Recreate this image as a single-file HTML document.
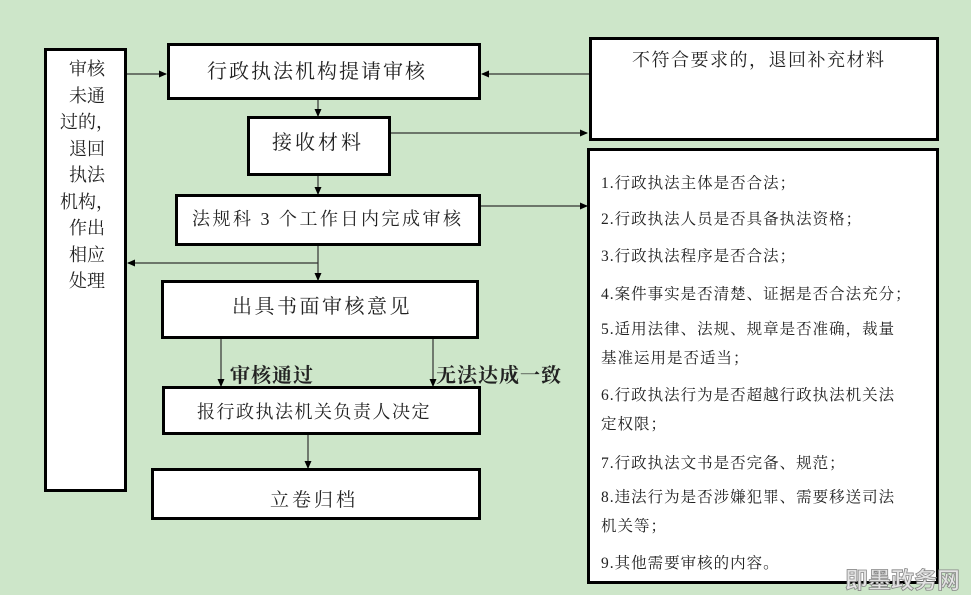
<!DOCTYPE html>
<html><head><meta charset="utf-8"><style>
body{margin:0;width:971px;height:593px;background:#cde6c9;position:relative;overflow:hidden;font-family:"Liberation Serif","Noto Serif CJK SC","Noto Sans CJK SC",serif;color:#222}
.b{position:absolute;background:#fff;border:3px solid #000;box-sizing:border-box;text-align:center}
.t{position:absolute;white-space:nowrap}
.li{position:absolute;left:601px;font-size:15.5px;white-space:nowrap;letter-spacing:1px}
</style></head><body>
<svg width="971" height="593" style="position:absolute;left:0;top:0">
<defs><marker id="a" markerWidth="8" markerHeight="8" refX="7" refY="4" orient="auto" markerUnits="userSpaceOnUse"><path d="M0,0.5 L8,4 L0,7.5z" fill="#000"/></marker></defs>
<g stroke="#333" stroke-width="1.2" fill="none">
<line x1="126" y1="74" x2="166" y2="74" marker-end="url(#a)"/>
<line x1="589" y1="74" x2="482" y2="74" marker-end="url(#a)"/>
<line x1="318" y1="98" x2="318" y2="116" marker-end="url(#a)"/>
<line x1="390" y1="133" x2="587" y2="133" marker-end="url(#a)"/>
<line x1="318" y1="175" x2="318" y2="194" marker-end="url(#a)"/>
<line x1="480" y1="206" x2="587" y2="206" marker-end="url(#a)"/>
<line x1="318" y1="245" x2="318" y2="280" marker-end="url(#a)"/>
<line x1="318" y1="263" x2="128" y2="263" marker-end="url(#a)"/>
<line x1="221" y1="338" x2="221" y2="386" marker-end="url(#a)"/>
<line x1="433" y1="338" x2="433" y2="386" marker-end="url(#a)"/>
<line x1="308" y1="434" x2="308" y2="468" marker-end="url(#a)"/>
</g></svg>
<div class="b" style="left:44px;top:48px;width:83px;height:444px"></div>
<div class="t" style="left:60px;top:56px;font-size:18px;line-height:26.5px;white-space:normal;width:54px;text-align:center">审核<br>未通<br>过的，<br>退回<br>执法<br>机构，<br>作出<br>相应<br>处理</div>
<div class="b" style="left:167px;top:43px;width:314px;height:57px"></div>
<div class="t" style="left:207px;top:55px;font-size:20px;letter-spacing:2px">行政执法机构提请审核</div>
<div class="b" style="left:247px;top:116px;width:144px;height:60px"></div>
<div class="t" style="left:272px;top:126px;font-size:20px;letter-spacing:3px">接收材料</div>
<div class="b" style="left:175px;top:194px;width:306px;height:52px"></div>
<div class="t" style="left:192px;top:205px;font-size:18px;letter-spacing:2.5px">法规科 3 个工作日内完成审核</div>
<div class="b" style="left:161px;top:280px;width:318px;height:59px"></div>
<div class="t" style="left:232px;top:290px;font-size:20px;letter-spacing:2.5px">出具书面审核意见</div>
<div class="t" style="left:230px;top:359px;font-size:20px;letter-spacing:1px;font-weight:bold;font-family:'Noto Serif CJK SC','Noto Sans CJK SC',serif">审核通过</div>
<div class="t" style="left:436px;top:359px;font-size:20px;letter-spacing:1px;font-weight:bold;font-family:'Noto Serif CJK SC','Noto Sans CJK SC',serif">无法达成一致</div>
<div class="b" style="left:162px;top:386px;width:319px;height:49px"></div>
<div class="t" style="left:197px;top:398px;font-size:18px;letter-spacing:1.5px">报行政执法机关负责人决定</div>
<div class="b" style="left:151px;top:468px;width:330px;height:52px"></div>
<div class="t" style="left:270px;top:485px;font-size:19px;letter-spacing:3px">立卷归档</div>
<div class="b" style="left:589px;top:37px;width:350px;height:104px"></div>
<div class="t" style="left:632px;top:46px;font-size:18px;letter-spacing:1.5px">不符合要求的，退回补充材料</div>
<div class="b" style="left:587px;top:148px;width:352px;height:436px;border-width:3px"></div>
<div class="li" style="top:171px">1.行政执法主体是否合法；</div>
<div class="li" style="top:207px">2.行政执法人员是否具备执法资格；</div>
<div class="li" style="top:244px">3.行政执法程序是否合法；</div>
<div class="li" style="top:282px">4.案件事实是否清楚、证据是否合法充分；</div>
<div class="li" style="top:317px">5.适用法律、法规、规章是否准确，裁量</div>
<div class="li" style="top:346px">基准运用是否适当；</div>
<div class="li" style="top:383px">6.行政执法行为是否超越行政执法机关法</div>
<div class="li" style="top:412px">定权限；</div>
<div class="li" style="top:451px">7.行政执法文书是否完备、规范；</div>
<div class="li" style="top:485px">8.违法行为是否涉嫌犯罪、需要移送司法</div>
<div class="li" style="top:514px">机关等；</div>
<div class="li" style="top:551px">9.其他需要审核的内容。</div>
<div class="t" style="left:845px;top:561px;font-size:23px;color:#e4e4e4;font-weight:bold;font-family:'Noto Sans CJK SC',sans-serif;-webkit-text-stroke:0.8px #888;letter-spacing:0px">即墨政务网</div>
</body></html>
